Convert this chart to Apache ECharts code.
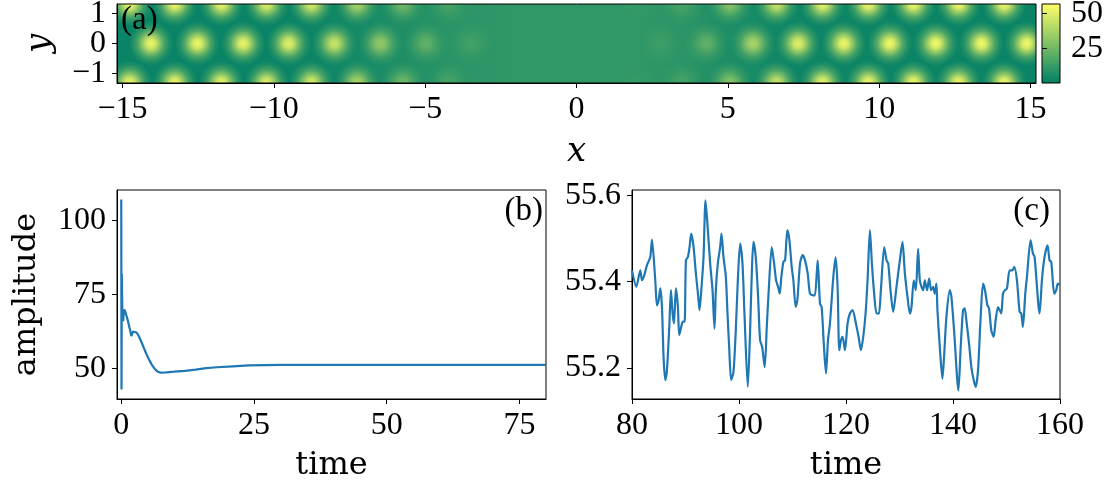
<!DOCTYPE html>
<html><head><meta charset="utf-8">
<script src="https://cdn.jsdelivr.net/npm/echarts@6/dist/echarts.min.js"></script>
<style>html,body{margin:0;padding:0;background:#fff}#c{width:1111px;height:486px}</style>
</head><body><div id="c"></div>
<script>
// ---------- Panel (a): hexagonal spot pattern ----------
const xRangeA = [-15.18, 15.18];
const yRangeA = [-1.315, 1.315];
const rowY = 1.315;                      // top / bottom rows of spots
const midRowX    = [-14.06,-12.52,-11.01,-9.51,-8.00,-6.48,-4.98,-3.48, 2.75,4.29,5.83,7.32,8.83,10.35,11.87,13.38,14.87];
const midRowPeak = [ 53,    53,    52,    50,   45,   33,   22,   15,   14,  22,  38,  50,  53,  54,   54,   54,   54];
const edgeRowX    = [-14.76,-13.27,-11.73,-10.24,-8.76,-7.25,-5.74,-4.24, 1.95,3.48,5.07,6.61,8.13,9.64,11.13,12.62,14.13];
const edgeRowPeak = [ 53,    53,    52,    50,    48,   38,   25,   16,   12,  16,  30,  45,  52,  54,  54,   54,   54];
const floorX   = [-15.18, -10, -8, -6, -4, -2, 2, 3.5, 5, 7, 15.18];
const floorVal = [2.5, 2.5, 4, 7, 10, 11, 11, 10, 7, 3.5, 2.5];
const xTicksA = [-15, -10, -5, 0, 5, 10, 15];
const yTicksA = [-1, 0, 1];
const yOuterLabelsA = [-1, 1];
const yInnerLabelsA = [0];
const cbRange = [0.5, 56.5];
const cbTicks = [25, 50];

// ---------- Panel (b) ----------
const timeB = [0,0.05,0.1,0.2,0.35,0.55,0.8,1.2,1.6,1.9,2.2,2.5,2.9,3.3,3.8,4.3,4.8,5.3,5.8,6.3,6.8,7.3,8.5,10,12,14,16,18,21,24,27,30,40,60,80];
const ampB  = [107,43,82,70,66,70,69,66.5,63.5,61,62.5,63,62.2,61,59,56.8,54.7,52.8,51.2,50,49.1,48.7,48.8,49,49.3,49.7,50.2,50.5,50.8,51.1,51.2,51.3,51.3,51.3,51.3];
const xTicksB = [0, 25, 50, 75];
const yTicksB = [50, 75, 100];

// ---------- Panel (c) ----------
const timeC = [80.00,80.81,81.55,81.87,82.30,82.80,83.42,83.73,84.35,84.66,84.98,85.29,85.60,85.91,86.22,86.53,86.97,87.28,87.59,87.84,88.21,88.58,88.83,89.20,89.51,89.83,90.08,90.45,90.76,91.07,91.51,91.94,92.38,92.62,93.00,93.37,93.74,94.18,94.61,95.05,95.42,95.67,96.04,96.48,96.73,97.10,97.54,97.85,98.16,98.53,98.97,99.40,99.78,100.21,100.65,101.02,101.64,102.08,102.39,102.70,103.13,103.57,103.94,104.32,104.81,105.19,105.56,106.12,106.56,106.93,107.30,107.61,107.92,108.30,108.61,109.04,109.42,109.85,110.16,110.60,110.91,111.41,111.90,112.34,112.84,113.27,113.89,114.20,114.70,115.14,115.45,115.88,116.26,116.63,117.00,117.63,118.06,118.43,118.74,119.06,119.37,119.80,120.30,120.73,121.23,121.85,122.35,122.79,123.22,123.66,124.03,124.47,124.84,125.21,125.71,126.15,126.52,127.14,127.58,127.89,128.32,128.82,129.44,130.06,130.56,131.00,131.49,131.93,132.24,132.67,133.05,133.48,133.79,134.10,134.42,134.73,135.16,135.54,135.91,136.28,136.59,136.90,137.09,137.53,138.02,138.33,138.77,139.39,139.70,140.20,141.01,141.44,141.88,142.19,142.50,143.00,143.43,143.87,144.24,144.68,145.11,145.61,145.98,146.42,146.73,147.16,147.60,147.97,148.41,148.72,149.03,149.34,149.71,150.09,150.58,151.08,151.46,151.95,152.45,152.76,153.07,153.51,153.82,154.50,154.94,155.25,156.18,156.62,157.11,157.67,158.05,158.36,158.92,159.29,159.60,160.00];
const ampC  = [55.426,55.388,55.426,55.403,55.415,55.438,55.457,55.497,55.403,55.345,55.357,55.384,55.341,55.222,55.172,55.195,55.295,55.380,55.326,55.303,55.384,55.341,55.276,55.295,55.307,55.307,55.449,55.457,55.480,55.511,55.480,55.419,55.365,55.334,55.388,55.457,55.588,55.519,55.442,55.380,55.291,55.380,55.442,55.480,55.511,55.457,55.411,55.326,55.249,55.172,55.191,55.287,55.403,55.488,55.442,55.326,55.156,55.287,55.419,55.492,55.457,55.365,55.264,55.249,55.202,55.295,55.380,55.480,55.442,55.403,55.388,55.372,55.411,55.446,55.449,55.519,55.496,55.434,55.403,55.341,55.357,55.442,55.461,55.449,55.419,55.372,55.368,55.368,55.449,55.349,55.341,55.249,55.187,55.264,55.303,55.411,55.456,55.388,55.241,55.264,55.272,55.241,55.303,55.326,55.334,55.303,55.272,55.241,55.272,55.326,55.403,55.519,55.442,55.380,55.326,55.326,55.380,55.480,55.449,55.442,55.380,55.330,55.388,55.449,55.492,55.419,55.365,55.326,55.341,55.403,55.380,55.476,55.403,55.388,55.380,55.403,55.380,55.407,55.380,55.388,55.372,55.395,55.334,55.249,55.175,55.226,55.318,55.380,55.365,55.287,55.148,55.249,55.334,55.338,55.310,55.256,55.202,55.172,55.156,55.195,55.303,55.395,55.380,55.345,55.338,55.287,55.272,55.310,55.341,55.334,55.326,55.372,55.380,55.384,55.426,55.426,55.434,55.403,55.330,55.326,55.295,55.372,55.411,55.496,55.465,55.457,55.326,55.403,55.457,55.484,55.449,55.446,55.372,55.380,55.395,55.392];
const yTicksC = [55.2, 55.4, 55.6];

// ---------- helpers ----------
function summer(v, a) {
  const t = Math.min(1, Math.max(0, (v - cbRange[0]) / (cbRange[1] - cbRange[0])));
  return 'rgba(' + Math.round(255 * t) + ',' + Math.round(255 * (0.5 + 0.5 * t)) + ',102,' + (a === undefined ? 1 : a) + ')';
}
const minus = v => String(v).replace('-', '\u2212');
const spotR = 0.74;
const spotOffsets = [0, 0.2, 0.4, 0.6, 0.8, 1];
const spotAlpha   = [1, 0.87, 0.57, 0.28, 0.1, 0];

const spots = [];
midRowX.forEach((x, i) => spots.push([x, 0, midRowPeak[i]]));
edgeRowX.forEach((x, i) => { spots.push([x, rowY, edgeRowPeak[i]]); spots.push([x, -rowY, edgeRowPeak[i]]); });

const TICK_FONT = 'Liberation Serif';
const NAME_FONT = 'DejaVu Serif';
const black = '#000';
function axisCommon(extra) {
  return Object.assign({
    type: 'value', splitLine: { show: false },
    axisLine: { show: true, onZero: false, lineStyle: { color: black, width: 1 } },
    axisTick: { show: true, length: 5, lineStyle: { color: black, width: 1 } },
    axisLabel: { color: black, fontFamily: TICK_FONT, fontSize: 32, margin: 11, interval: 0, hideOverlap: false,
                 showMinLabel: true, showMaxLabel: true },
    nameTextStyle: { color: black, fontFamily: NAME_FONT, fontSize: 32 },
    nameLocation: 'middle', nameMoveOverlap: false
  }, extra);
}
function withTicks(ax, vals, fmt, labelVals) {
  ax.axisTick = Object.assign({}, ax.axisTick, { customValues: vals });
  ax.axisLabel = Object.assign({}, ax.axisLabel, { customValues: labelVals || vals, formatter: fmt || minus });
  return ax;
}

const chart = echarts.init(document.getElementById('c'), null, { renderer: 'canvas' });
chart.setOption({
  animation: false,
  backgroundColor: '#fff',
  title: [
    { text: '(a)', left: 121, top: 4, padding: 0, textStyle: { fontFamily: TICK_FONT, fontSize: 33, fontWeight: 'normal', color: black } },
    { text: '(b)', right: 568, top: 195, padding: 0, textStyle: { fontFamily: TICK_FONT, fontSize: 33, fontWeight: 'normal', color: black } },
    { text: '(c)', right: 61, top: 195, padding: 0, textStyle: { fontFamily: TICK_FONT, fontSize: 33, fontWeight: 'normal', color: black } }
  ],
  grid: [
    { left: 117, top: 4, width: 919, height: 79, show: true, z: 10, backgroundColor: 'transparent', borderColor: black, borderWidth: 1, outerBoundsMode: 'none', containLabel: false },
    { left: 1042, top: 4, width: 18, height: 79, show: true, z: 10, backgroundColor: 'transparent', borderColor: black, borderWidth: 1, outerBoundsMode: 'none', containLabel: false },
    { left: 117, top: 190, width: 429, height: 209, show: true, backgroundColor: 'transparent', borderColor: black, borderWidth: 1, outerBoundsMode: 'none', containLabel: false },
    { left: 632, top: 190, width: 428, height: 209, show: true, backgroundColor: 'transparent', borderColor: black, borderWidth: 1, outerBoundsMode: 'none', containLabel: false }
  ],
  xAxis: [
    withTicks(axisCommon({ gridIndex: 0, min: xRangeA[0], max: xRangeA[1], z: 10, name: 'x', nameGap: 52,
      nameTextStyle: { color: black, fontFamily: NAME_FONT, fontSize: 34, fontStyle: 'italic' } }), xTicksA),
    axisCommon({ gridIndex: 1, min: 0, max: 1, show: false }),
    withTicks(axisCommon({ gridIndex: 2, min: -0.8, max: 80, name: 'time', nameGap: 51 }), xTicksB),
    axisCommon({ gridIndex: 3, min: 80, max: 160, interval: 20, name: 'time', nameGap: 51 })
  ],
  yAxis: [
    withTicks(axisCommon({ gridIndex: 0, min: yRangeA[0], max: yRangeA[1], z: 10, position: 'left', name: 'y', nameGap: 60, nameRotate: 90,
      nameTextStyle: { color: black, fontFamily: NAME_FONT, fontSize: 34, fontStyle: 'italic' } }), yTicksA, null, yOuterLabelsA),
    withTicks(axisCommon({ gridIndex: 1, min: cbRange[0], max: cbRange[1], position: 'right', z: 10, axisLine: { show: false } }), cbTicks),
    withTicks(axisCommon({ gridIndex: 2, min: 39.8, max: 110.2, name: 'amplitude', nameGap: 74, nameRotate: 90 }), yTicksB),
    withTicks(axisCommon({ gridIndex: 3, min: 55.128, max: 55.612 }), yTicksC, v => v.toFixed(1)),
    withTicks(axisCommon({ gridIndex: 0, min: yRangeA[0], max: yRangeA[1], z: 10, position: 'left', offset: 0,
      axisLine: { show: false }, axisTick: { show: false } }), [], null, yInnerLabelsA)
  ],
  series: [
    { // background level of panel (a)
      type: 'custom', xAxisIndex: 0, yAxisIndex: 0, clip: true, silent: true, z: 1,
      data: [[floorX[0], floorX[floorX.length - 1]]], encode: { x: [0, 1] },
      renderItem: (p, api) => {
        const a = api.coord([api.value(0), yRangeA[1]]);
        const b = api.coord([api.value(1), yRangeA[0]]);
        const span = floorX[floorX.length - 1] - floorX[0];
        const stops = floorX.map((x, i) => ({ offset: (x - floorX[0]) / span, color: summer(floorVal[i]) }));
        return { type: 'rect', shape: { x: a[0], y: a[1], width: b[0] - a[0], height: b[1] - a[1] },
                 style: { fill: new echarts.graphic.LinearGradient(0, 0, 1, 0, stops) } };
      }
    },
    { // spots of panel (a)
      type: 'custom', xAxisIndex: 0, yAxisIndex: 0, clip: true, silent: true, z: 2,
      data: spots, encode: { x: 0, y: 1 },
      renderItem: (p, api) => {
        const c = api.coord([api.value(0), api.value(1)]);
        const r = api.size([spotR, 0])[0];
        const pk = api.value(2);
        const stops = spotOffsets.map((o, i) => ({ offset: o, color: summer(pk, spotAlpha[i]) }));
        return { type: 'circle', shape: { cx: c[0], cy: c[1], r: r },
                 style: { fill: new echarts.graphic.RadialGradient(0.5, 0.5, 0.5, stops) } };
      }
    },
    { // colorbar
      type: 'custom', xAxisIndex: 1, yAxisIndex: 1, clip: true, silent: true, z: 1,
      data: [[0, cbRange[0], 1, cbRange[1]]], encode: { x: [0, 2], y: [1, 3] },
      renderItem: (p, api) => {
        const a = api.coord([api.value(0), api.value(3)]);
        const b = api.coord([api.value(2), api.value(1)]);
        return { type: 'rect', shape: { x: a[0], y: a[1], width: b[0] - a[0], height: b[1] - a[1] },
                 style: { fill: new echarts.graphic.LinearGradient(0, 1, 0, 0, [
                   { offset: 0, color: summer(cbRange[0]) }, { offset: 1, color: summer(cbRange[1]) }]) } };
      }
    },
    { type: 'line', xAxisIndex: 2, yAxisIndex: 2, data: timeB.map((t, i) => [t, ampB[i]]),
      showSymbol: false, symbol: 'none', lineStyle: { color: '#1f77b4', width: 2.2 }, clip: true, z: 2 },
    { type: 'line', xAxisIndex: 3, yAxisIndex: 3, data: timeC.map((t, i) => [t, ampC[i]]),
      showSymbol: false, symbol: 'none', smooth: 0.25, lineStyle: { color: '#1f77b4', width: 2.2 }, clip: true, z: 2 }
  ]
});
</script></body></html>
